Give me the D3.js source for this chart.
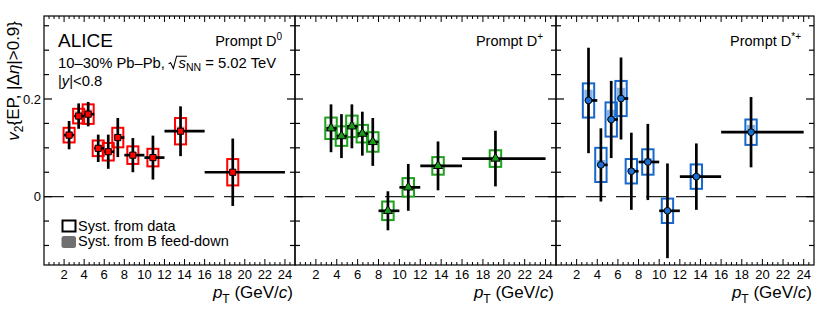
<!DOCTYPE html>
<html><head><meta charset="utf-8">
<script src="https://cdn.jsdelivr.net/npm/d3@7"></script>
<style>
body{margin:0;background:#fff}
svg{display:block}
text{font-family:"Liberation Sans",Arial,Helvetica,sans-serif;fill:#000}
</style>
</head><body>
<svg id="c" width="830" height="312"></svg>
<script>
// ---------------- DATA ----------------
// Prompt D0
const ptD0    = [2.5, 3.45, 4.4, 5.4, 6.4, 7.35, 8.85, 10.85, 13.6, 18.8];
const ptLoD0  = [2, 3, 4, 5, 6, 7, 8, 10, 12, 16];
const ptHiD0  = [3, 4, 5, 6, 7, 8, 10, 12, 16, 24];
const v2D0    = [0.126, 0.165, 0.169, 0.099, 0.092, 0.121, 0.085, 0.080, 0.134, 0.050];
const statD0  = [0.029, 0.026, 0.025, 0.028, 0.035, 0.040, 0.035, 0.045, 0.051, 0.069];
const systD0  = [0.015, 0.015, 0.020, 0.016, 0.018, 0.020, 0.018, 0.018, 0.027, 0.027];
const fdUpD0  = [0.008, 0.010, 0.010, 0.006, 0.006, 0.008, 0.006, 0.006, 0.010, 0.004];
const fdDnD0  = [0.001, 0.001, 0.001, 0.001, 0.001, 0.001, 0.001, 0.001, 0.001, 0.001];
// Prompt D+
const ptDp    = [3.45, 4.45, 5.45, 6.45, 7.45, 8.9, 10.85, 13.7, 19.2];
const ptLoDp  = [3, 4, 5, 6, 7, 8, 10, 12, 16];
const ptHiDp  = [4, 5, 6, 7, 8, 10, 12, 16, 24];
const v2Dp    = [0.140, 0.124, 0.144, 0.129, 0.112, -0.029, 0.019, 0.063, 0.078];
const statDp  = [0.049, 0.045, 0.045, 0.045, 0.049, 0.040, 0.048, 0.050, 0.057];
const systDp  = [0.022, 0.020, 0.022, 0.018, 0.020, 0.019, 0.019, 0.018, 0.017];
const fdUpDp  = [0.008, 0.007, 0.008, 0.007, 0.006, 0.002, 0.002, 0.004, 0.004];
const fdDnDp  = [0.001, 0.001, 0.001, 0.001, 0.001, 0.001, 0.001, 0.001, 0.001];
// Prompt D*+
const ptDs    = [3.15, 4.35, 5.35, 6.3, 7.3, 8.9, 10.8, 13.6, 18.9];
const ptLoDs  = [3, 4, 5, 6, 7, 8, 10, 12, 16];
const ptHiDs  = [4, 5, 6, 7, 8, 10, 12, 16, 24];
const v2Ds    = [0.197, 0.065, 0.158, 0.201, 0.052, 0.071, -0.029, 0.041, 0.132];
const statDs  = [0.108, 0.075, 0.079, 0.084, 0.079, 0.078, 0.097, 0.068, 0.072];
const systDs  = [0.035, 0.035, 0.035, 0.036, 0.025, 0.026, 0.025, 0.025, 0.026];
const fdUpDs  = [0.022, 0.010, 0.020, 0.022, 0.006, 0.008, 0.002, 0.005, 0.015];
const fdDnDs  = [0.002, 0.002, 0.002, 0.002, 0.002, 0.002, 0.002, 0.002, 0.002];

const panelTitles = ["Prompt D", "Prompt D", "Prompt D"];
const panelSups   = ["0", "+", "*+"];
const xTicks      = [2, 4, 6, 8, 10, 12, 14, 16, 18, 20, 22, 24];
const yTicks      = [0, 0.2];
const yTickLabels = ["0", "0.2"];
const legendLabels = ["Syst. from data", "Syst. from B feed-down"];

// ---------------- LAYOUT / STYLE ----------------
const svg = d3.select("#c");
const frameTop = 16, frameBottom = 265;
const yScale = d3.scaleLinear().domain([-0.14, 0.37]).range([frameBottom, frameTop]);
const boxHalf = 0.55; // GeV/c

const panels = [
  {x0: 44,  x1: 295, pt: ptD0, lo: ptLoD0, hi: ptHiD0, v: v2D0, st: statD0, sy: systD0, fu: fdUpD0, fd: fdDnD0,
   col: "#ff0000", fdCol: "#ffaaaa", mfill: "#ff0000", marker: "square"},
  {x0: 295, x1: 556, pt: ptDp, lo: ptLoDp, hi: ptHiDp, v: v2Dp, st: statDp, sy: systDp, fu: fdUpDp, fd: fdDnDp,
   col: "#1fa01f", fdCol: "#a6dba6", mfill: "#1a9a1a", marker: "triangle"},
  {x0: 556, x1: 814, pt: ptDs, lo: ptLoDs, hi: ptHiDs, v: v2Ds, st: statDs, sy: systDs, fu: fdUpDs, fd: fdDnDs,
   col: "#1767cc", fdCol: "#86b4ea", mfill: "#1a6fd0", marker: "circle"}
];

panels.forEach((p, i) => {
  const x = d3.scaleLinear().domain([0, 25]).range([p.x0, p.x1]);
  const y = yScale;
  const g = svg.append("g");
  const idx = d3.range(p.pt.length);

  g.append("line").attr("x1", p.x0).attr("x2", p.x1).attr("y1", y(0)).attr("y2", y(0))
    .attr("stroke", "#222").attr("stroke-width", 1.1).attr("stroke-dasharray", "20,10");

  g.selectAll(".fd").data(idx).join("rect")
    .attr("x", d => x(p.pt[d] - boxHalf) + 1.5)
    .attr("width", d => x(p.pt[d] + boxHalf) - x(p.pt[d] - boxHalf) - 3)
    .attr("y", d => y(p.v[d] + p.fu[d]))
    .attr("height", d => y(p.v[d] - p.fd[d]) - y(p.v[d] + p.fu[d]))
    .attr("fill", p.fdCol);

  g.selectAll(".sy").data(idx).join("rect")
    .attr("x", d => x(p.pt[d] - boxHalf))
    .attr("width", d => x(p.pt[d] + boxHalf) - x(p.pt[d] - boxHalf))
    .attr("y", d => y(p.v[d] + p.sy[d]))
    .attr("height", d => y(p.v[d] - p.sy[d]) - y(p.v[d] + p.sy[d]))
    .attr("fill", "none").attr("stroke", p.col).attr("stroke-width", 2);

  g.selectAll(".ev").data(idx).join("line")
    .attr("x1", d => x(p.pt[d])).attr("x2", d => x(p.pt[d]))
    .attr("y1", d => y(p.v[d] + p.st[d])).attr("y2", d => y(p.v[d] - p.st[d]))
    .attr("stroke", "#000").attr("stroke-width", 2.7);
  g.selectAll(".eh").data(idx).join("line")
    .attr("x1", d => x(p.lo[d])).attr("x2", d => x(p.hi[d]))
    .attr("y1", d => y(p.v[d])).attr("y2", d => y(p.v[d]))
    .attr("stroke", "#000").attr("stroke-width", 2.7);

  let sym;
  if (p.marker === "square") sym = d3.symbol(d3.symbolSquare, 38);
  else if (p.marker === "triangle") sym = d3.symbol(d3.symbolTriangle, 36);
  else sym = d3.symbol(d3.symbolCircle, 36);
  g.selectAll(".mk").data(idx).join("path")
    .attr("d", sym)
    .attr("transform", d => `translate(${x(p.pt[d])},${y(p.v[d])})`)
    .attr("fill", p.mfill).attr("stroke", "#000").attr("stroke-width", 1);

  g.append("rect").attr("x", p.x0).attr("y", frameTop).attr("width", p.x1 - p.x0).attr("height", frameBottom - frameTop)
    .attr("fill", "none").attr("stroke", "#000").attr("stroke-width", 1.2);

  d3.range(0.5, 25, 0.5).forEach(t => {
    const major = Math.abs(t % 2) < 1e-9;
    const L = major ? 6 : 3;
    const xx = x(t);
    g.append("line").attr("x1", xx).attr("x2", xx).attr("y1", frameBottom).attr("y2", frameBottom - L)
      .attr("stroke", "#000").attr("stroke-width", 1);
    g.append("line").attr("x1", xx).attr("x2", xx).attr("y1", frameTop).attr("y2", frameTop + L)
      .attr("stroke", "#000").attr("stroke-width", 1);
  });
  d3.range(-0.1, 0.36, 0.05).map(v => Math.round(v * 100) / 100).forEach(t => {
    const major = yTicks.some(m => Math.abs(m - t) < 1e-9);
    const L = major ? 8 : 5;
    const yy = y(t);
    g.append("line").attr("x1", p.x0).attr("x2", p.x0 + L).attr("y1", yy).attr("y2", yy)
      .attr("stroke", "#000").attr("stroke-width", 1.2);
    g.append("line").attr("x1", p.x1).attr("x2", p.x1 - L).attr("y1", yy).attr("y2", yy)
      .attr("stroke", "#000").attr("stroke-width", 1.2);
  });

  g.selectAll(".xl").data(xTicks).join("text")
    .attr("x", d => x(d)).attr("y", 279).attr("text-anchor", "middle")
    .attr("font-size", 13).text(d => d);

  const xtitle = g.append("text").attr("x", p.x1 - 2).attr("y", 298).attr("text-anchor", "end").attr("font-size", 17);
  xtitle.append("tspan").attr("font-style", "italic").text("p");
  xtitle.append("tspan").attr("font-size", 12).attr("dy", 5).text("T");
  xtitle.append("tspan").attr("dy", -5).text(" (GeV/");
  xtitle.append("tspan").attr("font-style", "italic").text("c");
  xtitle.append("tspan").text(")");

  const tt = g.append("text").attr("x", p.x1 - 13).attr("y", 46).attr("text-anchor", "end").attr("font-size", 14.5);
  tt.append("tspan").text(panelTitles[i]);
  tt.append("tspan").attr("font-size", 10).attr("dy", -6).text(panelSups[i]);
});

yTicks.forEach((t, k) => {
  svg.append("text").attr("x", 41).attr("y", yScale(t) + 4.5).attr("text-anchor", "end")
    .attr("font-size", 13).text(yTickLabels[k]);
});

const ytitle = svg.append("text").attr("transform", "translate(19,21) rotate(-90)")
  .attr("text-anchor", "end").attr("font-size", 17);
ytitle.append("tspan").attr("font-style", "italic").text("v");
ytitle.append("tspan").attr("font-size", 12).attr("dy", 4).text("2");
ytitle.append("tspan").attr("dy", -4).text("{EP, |Δ");
ytitle.append("tspan").attr("font-style", "italic").text("η");
ytitle.append("tspan").text("|>0.9}");

svg.append("text").attr("x", 58).attr("y", 46.5).attr("font-size", 19).text("ALICE");
const sys = svg.append("text").attr("x", 58).attr("y", 67.7).attr("font-size", 14.8);
sys.append("tspan").text("10–30% Pb–Pb, ");
sys.append("tspan").attr("dx", 9.5).attr("font-style", "italic").text("s");
sys.append("tspan").attr("font-size", 10.5).attr("dy", 3).text("NN");
sys.append("tspan").attr("dy", -3).text(" = 5.02 TeV");
{
  const node = sys.node();
  const sIndex = "10–30% Pb–Pb, ".length;
  const ext = node.getExtentOfChar(sIndex);
  const base = 67.7;
  const x0 = ext.x - 10;
  svg.append("path")
    .attr("d", `M${x0},${base - 4} L${x0 + 2},${base - 5} L${x0 + 4.8},${base + 0.8} L${x0 + 8},${base - 11.5} L${ext.x + ext.width + 1},${base - 11.5}`)
    .attr("fill", "none").attr("stroke", "#000").attr("stroke-width", 1.1);
}
const yl = svg.append("text").attr("x", 58).attr("y", 86).attr("font-size", 14.8);
yl.append("tspan").text("|");
yl.append("tspan").attr("font-style", "italic").text("y");
yl.append("tspan").text("|<0.8");

svg.append("rect").attr("x", 62.5).attr("y", 220.5).attr("width", 13).attr("height", 11)
  .attr("fill", "none").attr("stroke", "#000").attr("stroke-width", 2);
svg.append("rect").attr("x", 61.5).attr("y", 236).attr("width", 14.5).attr("height", 12).attr("rx", 2.5)
  .attr("fill", "#707070");
svg.append("text").attr("x", 78).attr("y", 230.5).attr("font-size", 14.5).text(legendLabels[0]);
svg.append("text").attr("x", 78).attr("y", 246).attr("font-size", 14.5).text(legendLabels[1]);
</script>
</body></html>
